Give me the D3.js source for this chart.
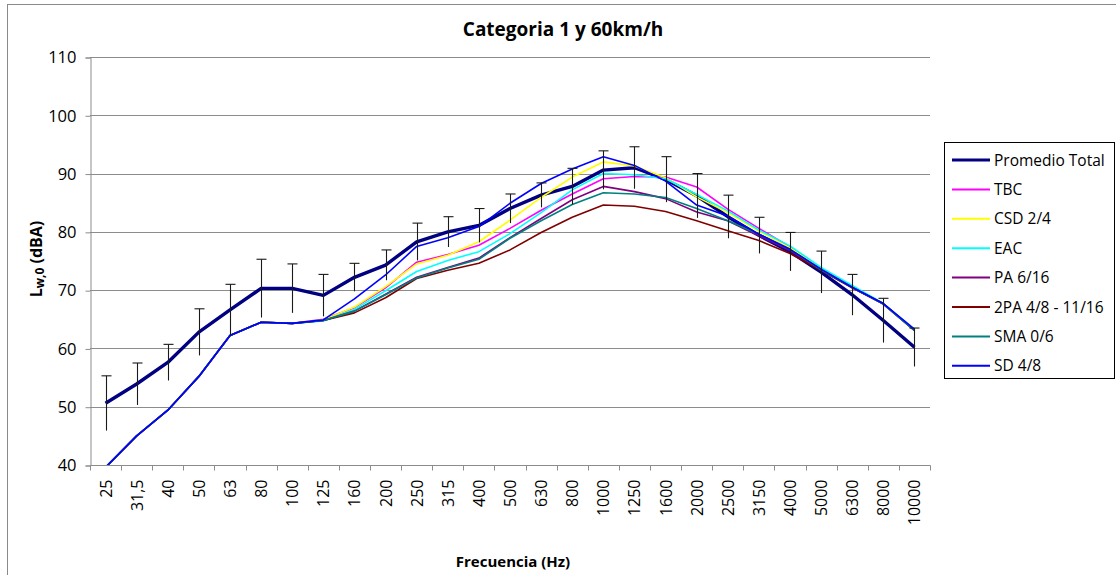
<!DOCTYPE html>
<html>
<head>
<meta charset="utf-8">
<script src="https://cdn.jsdelivr.net/npm/d3@7"></script>
<style>
  html, body { margin: 0; padding: 0; background: #fff; }
  svg { display: block; font-family: "Open Sans", "DejaVu Sans", sans-serif; }
</style>
</head>
<body>
<svg id="chart" width="1116" height="575"></svg>
<script>
// Frequency bands (Hz), third-octave
const frequencies = ["25", "31,5", "40", "50", "63", "80", "100", "125", "160", "200", "250", "315", "400", "500", "630", "800", "1000", "1250", "1600", "2000", "2500", "3150", "4000", "5000", "6300", "8000", "10000"];

// Lw,0 (dBA) per surface type
const promedioTotal = [50.6, 53.9, 57.6, 62.8, 66.6, 70.3, 70.3, 69.1, 72.2, 74.3, 78.3, 80.0, 81.1, 84.0, 86.3, 87.8, 90.6, 91.0, 89.0, 86.2, 82.6, 79.4, 76.6, 73.1, 69.2, 64.8, 60.2];
const promedioError = [4.7, 3.6, 3.1, 4.0, 4.4, 5.0, 4.2, 3.6, 2.4, 2.6, 3.2, 2.6, 2.9, 2.5, 2.1, 3.1, 3.3, 3.6, 3.9, 3.8, 3.7, 3.1, 3.3, 3.6, 3.5, 3.8, 3.3];
const tbc     = [39.6, 45.0, 49.4, 55.2, 62.2, 64.5, 64.3, 65.0, 67.0, 70.4, 74.8, 76.1, 77.7, 80.6, 83.7, 86.5, 89.1, 89.5, 89.4, 87.7, 83.9, 80.6, 77.4, 73.7, 70.5, 67.6, 63.1];
const csd24   = [39.6, 45.0, 49.4, 55.2, 62.2, 64.5, 64.3, 64.9, 67.1, 70.6, 74.5, 76.0, 78.3, 82.0, 85.9, 89.4, 92.0, 91.3, 89.3, 86.0, 83.3, 80.1, 77.3, 73.7, 70.6, 67.7, 63.1];
const eac     = [39.6, 45.0, 49.4, 55.2, 62.2, 64.5, 64.3, 64.7, 66.7, 69.9, 73.2, 75.1, 76.6, 79.7, 83.3, 87.2, 90.0, 89.8, 89.1, 86.4, 83.6, 80.3, 77.6, 73.9, 70.8, 67.7, 63.1];
const pa616   = [39.6, 45.0, 49.4, 55.2, 62.2, 64.5, 64.3, 64.8, 66.4, 69.3, 72.2, 73.9, 75.5, 79.0, 82.3, 85.5, 87.8, 86.9, 85.7, 83.4, 81.9, 79.3, 76.8, 73.4, 70.4, 67.6, 63.1];
const pa2     = [39.6, 45.0, 49.4, 55.2, 62.2, 64.5, 64.3, 64.8, 66.1, 68.7, 72.0, 73.4, 74.6, 76.9, 79.9, 82.5, 84.6, 84.4, 83.5, 81.9, 80.2, 78.5, 76.3, 73.4, 70.4, 67.7, 63.1];
const sma06   = [39.6, 45.0, 49.4, 55.2, 62.2, 64.5, 64.3, 64.8, 66.4, 69.2, 72.1, 73.8, 75.3, 78.9, 81.9, 84.7, 86.7, 86.5, 85.9, 84.0, 81.9, 79.6, 77.0, 73.5, 70.5, 67.6, 63.1];
const sd48    = [39.6, 45.0, 49.4, 55.2, 62.2, 64.5, 64.3, 64.9, 68.5, 72.6, 77.5, 79.0, 80.9, 84.9, 88.3, 90.8, 92.9, 91.4, 88.7, 84.6, 82.7, 79.6, 77.0, 73.6, 70.5, 67.7, 63.3];

const yTicks = [40, 50, 60, 70, 80, 90, 100, 110];

const series = [
  { name: "Promedio Total",    values: promedioTotal, color: "#000080", width: 3.4 },
  { name: "TBC",               values: tbc,           color: "#FF00FF", width: 1.6 },
  { name: "CSD 2/4",           values: csd24,         color: "#FFFF00", width: 1.6 },
  { name: "EAC",               values: eac,           color: "#00FFFF", width: 1.6 },
  { name: "PA 6/16",           values: pa616,         color: "#800080", width: 1.6 },
  { name: "2PA 4/8 - 11/16",   values: pa2,           color: "#800000", width: 1.6 },
  { name: "SMA 0/6",           values: sma06,         color: "#008080", width: 1.6 },
  { name: "SD 4/8",            values: sd48,          color: "#0000FF", width: 1.6 }
];

const svg = d3.select("#chart");
const plot = { left: 90, right: 930, top: 57, bottom: 465 };

// Chart area frame
svg.append("rect")
  .attr("x", 7.5).attr("y", 4.5)
  .attr("width", 1120).attr("height", 600)
  .attr("fill", "none").attr("stroke", "#8a8a8a").attr("stroke-width", 1);

const x = d3.scaleBand().domain(frequencies).range([plot.left, plot.right]).padding(0);
const y = d3.scaleLinear().domain([40, 110]).range([plot.bottom, plot.top]);

// Horizontal gridlines
svg.append("g")
  .selectAll("line")
  .data(yTicks)
  .join("line")
  .attr("x1", plot.left).attr("x2", plot.right)
  .attr("y1", d => Math.round(y(d)) + 0.5).attr("y2", d => Math.round(y(d)) + 0.5)
  .attr("stroke", "#8c8c8c").attr("stroke-width", 1);

// Y axis
const yAxis = svg.append("g")
  .attr("transform", `translate(${plot.left + 0.5},0.5)`)
  .call(d3.axisLeft(y).tickValues(yTicks).tickSize(5).tickPadding(9));
yAxis.select(".domain").attr("stroke", "#8c8c8c");
yAxis.selectAll(".tick line").attr("stroke", "#8c8c8c");
yAxis.selectAll(".tick text")
  .attr("font-size", 16.5).attr("fill", "#000")
  .attr("font-family", "'Open Sans', sans-serif");

// X axis: ticks on band boundaries, rotated labels
const xg = svg.append("g").attr("transform", `translate(0,${plot.bottom + 0.5})`);
xg.append("line")
  .attr("x1", plot.left).attr("x2", plot.right + 0.5)
  .attr("stroke", "#8c8c8c");
xg.selectAll("line.tk")
  .data(d3.range(frequencies.length + 1))
  .join("line").attr("class", "tk")
  .attr("x1", i => Math.round(plot.left + i * x.bandwidth()) + 0.5)
  .attr("x2", i => Math.round(plot.left + i * x.bandwidth()) + 0.5)
  .attr("y1", 0).attr("y2", 5)
  .attr("stroke", "#8c8c8c");
xg.selectAll("text")
  .data(frequencies)
  .join("text")
  .attr("transform", d => `translate(${x(d) + x.bandwidth() / 2 + 6},14) rotate(-90)`)
  .attr("text-anchor", "end")
  .attr("font-size", 16)
  .attr("fill", "#000")
  .text(d => d);

// Series lines
const line = d3.line()
  .x((d, i) => x(frequencies[i]) + x.bandwidth() / 2)
  .y(d => y(d));

svg.append("clipPath").attr("id", "plotClip")
  .append("rect")
  .attr("x", plot.left).attr("y", plot.top - 5)
  .attr("width", plot.right - plot.left).attr("height", plot.bottom - plot.top + 5);

const lines = svg.append("g").attr("clip-path", "url(#plotClip)");
series.forEach(s => {
  lines.append("path")
    .datum(s.values)
    .attr("d", line)
    .attr("fill", "none")
    .attr("stroke", s.color)
    .attr("stroke-width", s.width)
    .attr("stroke-linejoin", "round");
});

// Error bars on the overall average (top cap only)
const eb = svg.append("g");
promedioTotal.forEach((v, i) => {
  const cx = Math.round(x(frequencies[i]) + x.bandwidth() / 2) + 0.5;
  const err = promedioError[i];
  eb.append("line")
    .attr("x1", cx).attr("x2", cx)
    .attr("y1", y(v + err)).attr("y2", y(v - err))
    .attr("stroke", "#1a1a1a").attr("stroke-width", 1.1);
  eb.append("line")
    .attr("x1", cx - 5).attr("x2", cx + 5)
    .attr("y1", y(v + err)).attr("y2", y(v + err))
    .attr("stroke", "#1a1a1a").attr("stroke-width", 1.1);
});

// Title
svg.append("text")
  .attr("x", 563).attr("y", 36)
  .attr("text-anchor", "middle")
  .attr("font-size", 19).attr("font-weight", "bold")
  .text("Categoria 1 y 60km/h");

// Axis titles
svg.append("text")
  .attr("x", 513).attr("y", 567)
  .attr("text-anchor", "middle")
  .attr("font-size", 15).attr("font-weight", "bold")
  .text("Frecuencia (Hz)");

const yTitle = svg.append("text")
  .attr("transform", "translate(42,259) rotate(-90)")
  .attr("text-anchor", "middle")
  .attr("font-size", 16).attr("font-weight", "bold");
yTitle.append("tspan").text("L");
yTitle.append("tspan").attr("font-size", 12).attr("dy", 2).text("w,0");
yTitle.append("tspan").attr("dy", -2).text(" (dBA)");

// Legend
const legend = svg.append("g");
legend.append("rect")
  .attr("x", 944.5).attr("y", 142.5)
  .attr("width", 170).attr("height", 236)
  .attr("fill", "#fff").attr("stroke", "#000").attr("stroke-width", 1);
series.forEach((s, i) => {
  const ly = 160 + i * 29.4;
  legend.append("line")
    .attr("x1", 952).attr("x2", 990)
    .attr("y1", ly).attr("y2", ly)
    .attr("stroke", s.color)
    .attr("stroke-width", i === 0 ? 3 : 2);
  legend.append("text")
    .attr("x", 994).attr("y", ly + 5.5)
    .attr("font-size", 15.5).attr("fill", "#000")
    .text(s.name);
});
</script>
</body>
</html>
